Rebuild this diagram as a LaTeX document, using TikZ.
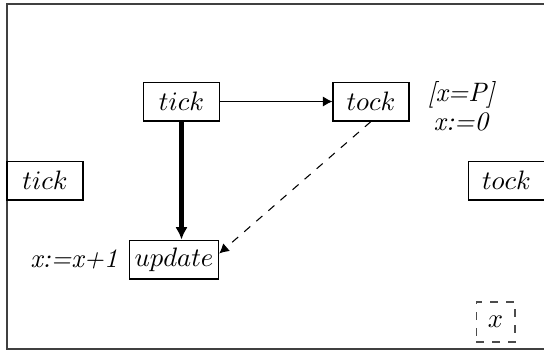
\documentclass[tikz,border=0pt]{standalone}
\usetikzlibrary{arrows.meta}
\begin{document}
\begin{tikzpicture}[x=0.375pt, y=-0.375pt, >={Latex[length=3.6pt, width=3.8pt]}]
  % Define styles
  \tikzstyle{state} = [rectangle, draw=black, minimum height=14.6pt, minimum width=28.5pt, inner sep=2pt, text centered]
  \tikzstyle{var} = [rectangle, draw=black!70, dashed, minimum height=15pt, minimum width=14.6pt, inner sep=2pt]
  \tikzstyle{note} = [inner sep=1pt, font=\itshape]

  % Frame
  \useasboundingbox (0,0) rectangle (544,352);
  \draw[black!75] (7,4) rectangle (550,349);

  % Nodes
  \node[state] (tick) at (181.5,101.5) {$tick$};
  \node[state] (tock) at (371,101.5) {$tock$};
  \node[state] (update) at (174,259.5) {$update$};
  \node[state] (tickenv) at (45,180.5) {$tick$};
  \node[state] (tockenv) at (506.5,180.5) {$tock$};
  \node[var] (x) at (495.5,322) {$x$};

  % Labels
  \node[note] (guard) at (461,95) {[x=P]};
  \node[note] (reset) at (461,122) {x:=0};
  \node[note] (incr) at (74,259) {x:=x+1};

  % Arrows
  \draw[->] (tick) -- (tock);
  \draw[-{Latex[length=4.6pt, width=4.6pt]}, ultra thick] (tick.south) -- (tick.south |- update.north);
  \draw[->, dashed] (tock.south) -- ([yshift=2.25pt]update.east);
\end{tikzpicture}
\end{document}
